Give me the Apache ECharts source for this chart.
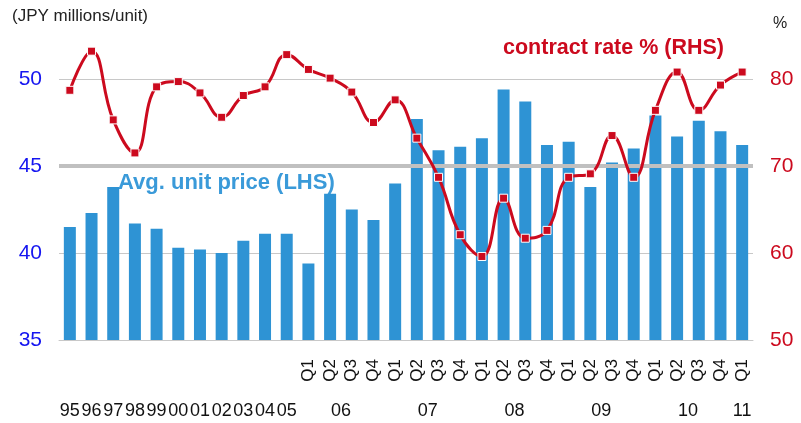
<!DOCTYPE html>
<html><head><meta charset="utf-8">
<script src="https://cdn.jsdelivr.net/npm/echarts@6/dist/echarts.min.js"></script>
<style>html,body{margin:0;padding:0;background:#fff}#c{width:801px;height:423px}</style>
</head><body><div id="c"></div>
<script>
var categories = ['95','96','97','98','99','00','01','02','03','04','05',
  '06Q1','06Q2','06Q3','06Q4','07Q1','07Q2','07Q3','07Q4','08Q1','08Q2','08Q3','08Q4',
  '09Q1','09Q2','09Q3','09Q4','10Q1','10Q2','10Q3','10Q4','11Q1'];
var quarterLabels = ['','','','','','','','','','','',
  'Q1','Q2','Q3','Q4','Q1','Q2','Q3','Q4','Q1','Q2','Q3','Q4',
  'Q1','Q2','Q3','Q4','Q1','Q2','Q3','Q4','Q1'];
var yearLabels = ['95','96','97','98','99','00','01','02','03','04','05',
  '','06','','','','07','','','','08','','','','09','','','','10','','','11'];
var unitPrice = [41.5,42.3,43.8,41.7,41.4,40.3,40.2,40.0,40.7,41.1,41.1,
  39.4,43.4,42.5,41.9,44.0,47.7,45.9,46.1,46.6,49.4,48.7,46.2,
  46.4,43.8,45.2,46.0,47.9,46.7,47.6,47.0,46.2];
var contractRate = [78.7,83.2,75.3,71.5,79.1,79.7,78.4,75.6,78.1,79.1,82.8,
  81.1,80.1,78.5,75.0,77.6,73.2,68.7,62.1,59.6,66.3,61.7,62.6,
  68.7,69.1,73.5,68.7,76.4,80.8,76.4,79.3,80.8];
var leftTicks = [35,40,45,50];
var rightTicks = [50,60,70,80];

var chart = echarts.init(document.getElementById('c'), null, {renderer:'canvas'});
var font = 'Arial, "Liberation Sans", sans-serif';
chart.setOption({
  animation:false,
  textStyle:{fontFamily:font},
  grid:{left:59,right:48,top:79,bottom:83,containLabel:false},
  xAxis:[{
    type:'category', data:categories, position:'bottom',
    axisLine:{show:true,lineStyle:{color:'#c8c8c8',width:1}},
    axisTick:{show:false},
    axisLabel:{interval:0,rotate:90,margin:19,fontSize:17,color:'#111',fontFamily:font,
      formatter:function(v,i){return quarterLabels[i];}}
  },{
    type:'category', data:categories, position:'bottom', offset:53,
    axisLine:{show:false}, axisTick:{show:false},
    axisLabel:{interval:0,margin:9,fontSize:18,color:'#111',fontFamily:font,
      formatter:function(v,i){
        var t = yearLabels[i];
        if(!t) return '';
        if(i>=11 && i<31) return '{s|'+t+'}';
        return t;
      },
      rich:{s:{fontSize:18,color:'#111',fontFamily:font,padding:[0,0,0,22]}}
    }
  }],
  yAxis:[{
    type:'value', min:leftTicks[0], max:leftTicks[leftTicks.length-1], interval:5,
    axisLine:{show:false}, axisTick:{show:false},
    splitLine:{show:true,lineStyle:{color:'#c8c8c8',width:1}},
    axisLabel:{fontSize:21,color:'#1515f0',margin:17,fontFamily:font}
  },{
    type:'value', min:rightTicks[0], max:rightTicks[rightTicks.length-1], interval:10,
    axisLine:{show:false}, axisTick:{show:false}, splitLine:{show:false},
    axisLabel:{fontSize:21,color:'#cc0a1e',margin:17,fontFamily:font}
  }],
  series:[{
    type:'bar', data:unitPrice, xAxisIndex:0, yAxisIndex:0, barWidth:12,
    itemStyle:{color:'#2e93d4'},
    markLine:{silent:true,symbol:['none','none'],label:{show:false},
      lineStyle:{color:'#c0c0c0',width:4,type:'solid'},
      data:[{yAxis:45}]}
  },{
    type:'line', data:contractRate, xAxisIndex:0, yAxisIndex:1, smooth:0.45, clip:false,
    symbol:'rect', symbolSize:8, z:5,
    lineStyle:{color:'#cc0a1e',width:3},
    itemStyle:{color:'#cc0a1e',borderColor:'#fff',borderWidth:1}
  }],
  graphic:[
    {type:'text',left:12,top:8,style:{text:'(JPY millions/unit)',font:'17px '+font,fill:'#222'}},
    {type:'text',left:773,top:16,style:{text:'%',font:'16px '+font,fill:'#222'}},
    {type:'text',left:503,top:37,style:{text:'contract rate % (RHS)',font:'bold 21.5px '+font,fill:'#cc0a1e'}},
    {type:'text',left:118,top:172,style:{text:'Avg. unit price (LHS)',font:'bold 22px '+font,fill:'#3a9ad9'}}
  ]
});
</script></body></html>
